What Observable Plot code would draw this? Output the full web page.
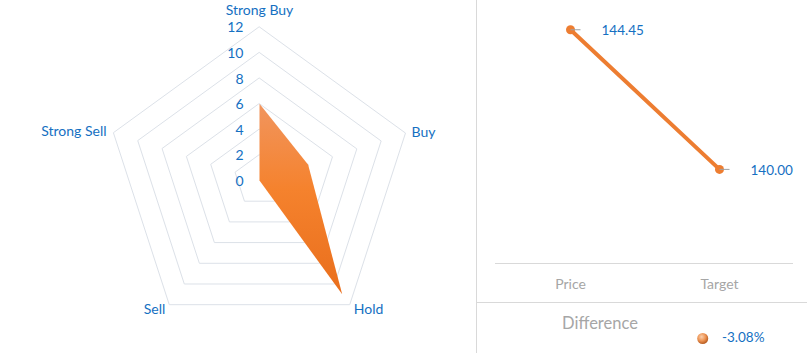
<!DOCTYPE html>
<html><head><meta charset="utf-8">
<script src="https://cdn.jsdelivr.net/npm/d3@7"></script>
<script src="https://cdn.jsdelivr.net/npm/@observablehq/plot@0.6"></script>
<style>
body{margin:0;background:#fff;font-family:Lato,"Open Sans",sans-serif}
#wrap{position:relative;width:807px;height:353px;overflow:hidden;background:#fff}
#left{position:absolute;left:0;top:0}
#right{position:absolute;left:476px;top:0;width:331px;height:353px;border-left:1px solid #d9d9d9;box-sizing:border-box}
#diff{border-top:1px solid #d9d9d9}
svg{display:block}
</style></head>
<body>
<div id="wrap"><div id="left"></div><div id="right"><div id="topPanel"></div><div id="diff"></div></div></div>
<script>
(function () {
// ---- data ----
const ratingCategories = ["Strong Buy", "Buy", "Hold", "Sell", "Strong Sell"];
const ratingCounts = [6, 4, 11, 0, 0];
const ratingTicks = [0, 2, 4, 6, 8, 10, 12];
const priceCategories = ["Price", "Target"];
const priceValues = [144.45, 140.00];
const priceAxis = [137, 145];
const differenceLabel = "Difference";
const differenceValue = -3.08;

// ---- styles ----
const blue = "#1570c2";
const orange = "#ED7D31";
const font = "Lato, 'Open Sans', sans-serif";

// ---- radar ----
const n = ratingCategories.length;
const polar = (i, v) => ({x: v * Math.sin(2 * Math.PI * i / n), y: v * Math.cos(2 * Math.PI * i / n)});
const maxTick = d3.max(ratingTicks);
const rings = [];
for (const t of ratingTicks.filter(t => t > 0)) for (let i = 0; i < n; i++) rings.push({level: t, ...polar(i, t)});
const ratingPoints = ratingCategories.map((c, i) => ({cat: c, ...polar(i, ratingCounts[i])}));
const labelPoints = ratingCategories.map((c, i) => ({cat: c, ...polar(i, maxTick)}));
const labelStyle = {
  "Strong Buy": {textAnchor: "middle", dx: 0, dy: -16},
  "Buy": {textAnchor: "start", dx: 6, dy: -1},
  "Hold": {textAnchor: "start", dx: 4, dy: 4.5},
  "Sell": {textAnchor: "end", dx: -4, dy: 4.5},
  "Strong Sell": {textAnchor: "end", dx: -7, dy: -1.5}
};

const W = 476, H = 353, cx = 259, cy = 180, R = 153.5;
const k = R / maxTick;

const radarDefs = () => {
  const defs = d3.create("svg:defs");
  const g = defs.append("linearGradient").attr("id", "radarFill")
    .attr("x1", 0).attr("y1", 0).attr("x2", 0).attr("y2", 1);
  g.append("stop").attr("offset", "0%").attr("stop-color", "#F1955E");
  g.append("stop").attr("offset", "45%").attr("stop-color", "#F5822D");
  g.append("stop").attr("offset", "100%").attr("stop-color", "#E96E1C");
  return defs.node();
};

const leftChart = Plot.plot({
  width: W, height: H, margin: 0,
  style: {fontFamily: font, background: "white"},
  x: {domain: [-cx / k, (W - cx) / k], range: [0, W], axis: null},
  y: {domain: [cy / k, -(H - cy) / k], range: [0, H], axis: null},
  marks: [
    radarDefs,
    Plot.line(rings, {x: "x", y: "y", z: "level", curve: "linear-closed", stroke: "#dce1e8", strokeWidth: 1}),
    Plot.line(ratingPoints, {x: "x", y: "y", curve: "linear-closed", fill: "url(#radarFill)", stroke: "none"}),
    Plot.text(ratingTicks, {x: () => 0, y: d => d, text: d => String(d), textAnchor: "end", dx: -16, dy: 1, fill: blue, fontSize: 14}),
    ...ratingCategories.map(c => Plot.text(labelPoints.filter(d => d.cat === c), {x: "x", y: "y", text: "cat", fill: blue, fontSize: 14, ...labelStyle[c]}))
  ]
});
document.getElementById("left").append(leftChart);

// ---- price vs target ----
const priceData = priceCategories.map((c, i) => ({cat: c, value: priceValues[i]}));
const tickSymbol = {draw(ctx) { ctx.moveTo(0, 0); ctx.lineTo(10, 0); }};

const topChart = Plot.plot({
  width: 330, height: 302, marginTop: 12, marginBottom: 39, marginLeft: 18, marginRight: 14,
  style: {fontFamily: font, background: "white"},
  x: {type: "point", domain: priceCategories, padding: 0.5, axis: null},
  y: {domain: priceAxis, axis: null},
  marks: [
    Plot.ruleY([d3.min(priceAxis)], {stroke: "#d9d9d9", strokeWidth: 1}),
    Plot.line(priceData, {x: "cat", y: "value", stroke: orange, strokeWidth: 4}),
    Plot.dot(priceData, {x: "cat", y: "value", r: 4.5, fill: orange}),
    Plot.dot(priceData, {x: "cat", y: "value", symbol: tickSymbol, stroke: "#a0a0a0", strokeWidth: 1, fill: "none", r: 4}),
    Plot.text(priceData, {x: "cat", y: "value", text: d => d.value.toFixed(2), textAnchor: "start", dx: 31, dy: 1, fill: blue, fontSize: 13.5}),
    Plot.text(priceCategories, {x: d => d, frameAnchor: "bottom", lineAnchor: "middle", dy: 21, text: d => d, fill: "#a6a6a6", fontSize: 14})
  ]
});
document.getElementById("topPanel").append(topChart);

// ---- difference ----
const diffDefs = () => {
  const defs = d3.create("svg:defs");
  const g = defs.append("radialGradient").attr("id", "ballFill")
    .attr("cx", "40%").attr("cy", "35%").attr("r", "65%");
  g.append("stop").attr("offset", "0%").attr("stop-color", "#FAD0AE");
  g.append("stop").attr("offset", "55%").attr("stop-color", "#EE9555");
  g.append("stop").attr("offset", "100%").attr("stop-color", "#B85D22");
  return defs.node();
};
const diffRow = [{cat: "Target", label: differenceLabel, value: differenceValue}];

const bottomChart = Plot.plot({
  width: 330, height: 50, marginTop: 0, marginBottom: 0, marginLeft: 18, marginRight: 14,
  style: {fontFamily: font, background: "white"},
  x: {type: "point", domain: priceCategories, padding: 0.5, axis: null},
  marks: [
    diffDefs,
    Plot.text([differenceLabel], {x: () => priceCategories[0], frameAnchor: "top", lineAnchor: "middle", text: d => d, dx: 29.5, dy: 20, fill: "#a6a6a6", fontSize: 16.5}),
    Plot.dot(diffRow, {x: "cat", frameAnchor: "top", dx: -16.8, dy: 35, r: 5.5, fill: "url(#ballFill)"}),
    Plot.text(diffRow, {x: "cat", frameAnchor: "top", lineAnchor: "middle", text: d => d.value.toFixed(2) + "%", textAnchor: "start", dx: 2.5, dy: 34.5, fill: blue, fontSize: 13.5})
  ]
});
document.getElementById("diff").append(bottomChart);
})();
</script>
</body></html>
